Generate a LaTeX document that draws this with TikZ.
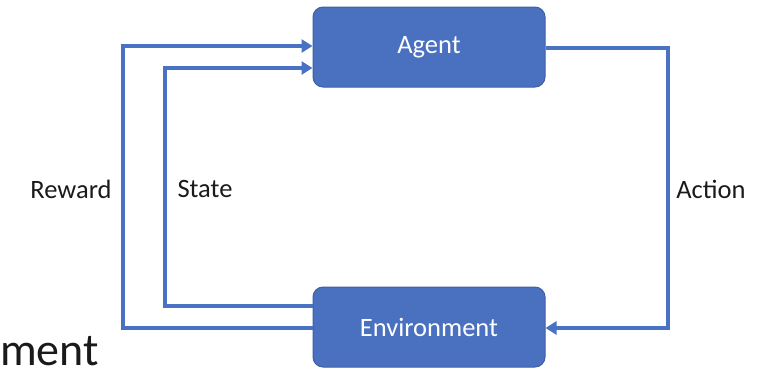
\documentclass[tikz,border=0pt]{standalone}
\usepackage{fontspec}
\setmainfont{Carlito}
\usetikzlibrary{arrows.meta}
\definecolor{boxblue}{HTML}{4A70C0}
\definecolor{lineblue}{HTML}{4A72C4}
\definecolor{txt}{HTML}{1A1A1A}
\begin{document}
\begin{tikzpicture}[x=1pt,y=-1pt,
  box/.style={draw=boxblue!85!black,line width=1pt,fill=boxblue,rounded corners=10pt,minimum width=232pt,minimum height=80pt,inner sep=0pt,text=white,font=\fontsize{26.5}{30}\selectfont},
  conn/.style={draw=lineblue,line width=4pt,-{Triangle[length=11pt,width=13pt]}},
  lbl/.style={text=txt,font=\fontsize{26.5}{30}\selectfont}]
\useasboundingbox (0,0) rectangle (769,368);
\node[box] (agent) at (429,47) {Agent};
\node[box] (env) at (429,327) {Environment};
\coordinate (rt) at (123,46);
\coordinate (rb) at (123,328);
\coordinate (st) at (165,68);
\coordinate (sb) at (165,306);
\coordinate (at) at (668,48);
\coordinate (ab) at (668,328);
\draw[conn] (env.west |- rb) -- (rb) -- (rt) -- (agent.west |- rt);
\draw[conn] (env.west |- sb) -- (sb) -- (st) -- (agent.west |- st);
\draw[conn] (agent.east |- at) -- (at) -- (ab) -- (env.east |- ab);
\node[lbl] (reward) at (71,189) {Reward};
\node[lbl] (state) at (205,189) {State};
\node[lbl] (action) at (711,189) {Action};
\node[text=txt,font=\fontsize{46}{50}\selectfont,anchor=base west,inner sep=0pt] (ment) at (0,365) {ment};
\end{tikzpicture}
\end{document}
